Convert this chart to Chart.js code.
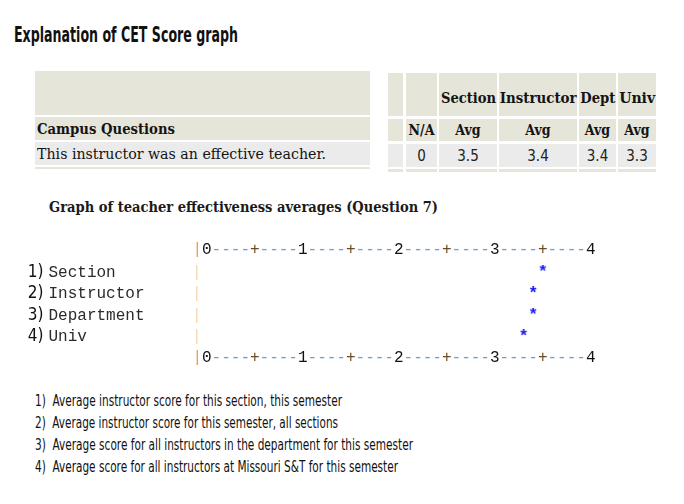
<!DOCTYPE html>
<html><head><meta charset="utf-8">
<script src="https://cdn.jsdelivr.net/npm/chart.js@4"></script>
<style>
body{margin:0;width:684px;height:504px;background:#fff;position:relative;overflow:hidden;}
.box{position:absolute;}
.cell{position:absolute;display:flex;align-items:center;justify-content:center;white-space:nowrap;
 font-family:"DejaVu Serif Condensed","DejaVu Serif",serif;font-size:14px;color:#141414;}
.cell.l{justify-content:flex-start;}
.b{font-weight:bold;}
.fit{display:inline-block;white-space:pre;}
.sans{font-family:"Liberation Sans Narrow","DejaVu Sans Condensed",sans-serif;color:#111;}
</style>
</head><body>
<div id="page"></div>
<canvas id="graph" class="box" style="left:0;top:230px;" width="684" height="144"></canvas>
<script>
// ---------- data ----------
const titleText = 'Explanation of CET Score graph';
const questionText = 'This instructor was an effective teacher.';
const groupHeaders = ['Section','Instructor','Dept','Univ'];
const subHeaders = ['N/A','Avg','Avg','Avg','Avg'];
const naCount = 0;
const averages = [3.5, 3.4, 3.4, 3.3];
const graphTitle = 'Graph of teacher effectiveness averages (Question 7)';
const rowNums = ['1)','2)','3)','4)'];
const rowNames = ['Section','Instructor','Department','Univ'];
const rowBars = ['|','|','|','|'];
const axisTicks = '|0----+----1----+----2----+----3----+----4'.split('');
const notes = [
 '1)  Average instructor score for this section, this semester',
 '2)  Average instructor score for this semester, all sections',
 '3)  Average score for all instructors in the department for this semester',
 '4)  Average score for all instructors at Missouri S&T for this semester'
];

// ---------- page layout ----------
const page = document.getElementById('page');
function el(cls, css, html){const d=document.createElement('div');d.className=cls;Object.assign(d.style,css);if(html!==undefined)d.innerHTML=html;page.appendChild(d);return d;}
function fitSpan(parent, text, w, origin){
  const s=document.createElement('span');s.className='fit';s.textContent=text;parent.appendChild(s);
  if(w){const a=s.getBoundingClientRect().width;s.style.transform='scaleX('+(w/a)+')';s.style.transformOrigin=origin||'left center';}
  return s;
}
const BEIGE='#e6e5da', GRAY='#ebebeb';
// title
const t = el('box sans b',{left:'14px',top:'20px',fontSize:'21px',fontWeight:'bold',lineHeight:'30px'});
fitSpan(t,titleText,224);
// left table
el('cell',{left:'35px',top:'71px',width:'335px',height:'44px',background:BEIGE});
const cq = el('cell l b',{left:'35px',top:'117px',width:'335px',height:'23px',background:BEIGE,paddingLeft:'2px',boxSizing:'border-box'});
fitSpan(cq,'Campus Questions',138);
const qt = el('cell l',{left:'35px',top:'142px',width:'335px',height:'23px',background:GRAY,paddingLeft:'2px',boxSizing:'border-box'});
fitSpan(qt,questionText,289);
el('cell',{left:'35px',top:'167px',width:'335px',height:'2px',background:BEIGE});
// right table
const cols=[[388,403],[406,437],[439,497],[499,577],[579,616],[618,656]];
const rows=[[73,116],[119,141],[144,167],[169,172]];
const hdrW=[null,null,55,77,35,36];
cols.forEach((c,ci)=>{
  rows.forEach((r,ri)=>{
    const bg = ri===2?GRAY:BEIGE;
    const d = el('cell'+(ri<2?' b':''),{left:c[0]+'px',top:r[0]+'px',width:(c[1]-c[0])+'px',height:(r[1]-r[0])+'px',background:bg});
    let txt='';
    if(ri===0 && ci>=2) txt=groupHeaders[ci-2];
    if(ri===1 && ci>=1) txt=subHeaders[ci-1];
    if(ri===2 && ci===1) txt=String(naCount);
    if(ri===2 && ci>=2) txt=averages[ci-2].toFixed(1);
    if(txt){
      if(ri===0){ d.style.alignItems='flex-end'; d.style.paddingBottom='10px'; d.style.boxSizing='border-box'; fitSpan(d,txt,hdrW[ci],'center'); }
      else if(ri===1){ fitSpan(d,txt,null); }
      else { d.style.fontFamily='"DejaVu Sans Condensed",sans-serif'; d.style.fontSize='15px'; d.style.color='#222'; fitSpan(d,txt,null); }
    }
  });
});
// graph heading
const gh = el('box b',{left:'49px',top:'197px',fontFamily:'"DejaVu Serif Condensed","DejaVu Serif",serif',fontSize:'15px',fontWeight:'bold',color:'#1a1a1a',lineHeight:'20px'});
fitSpan(gh,graphTitle,389);
// notes
const noteW=[307,303,378,363];
notes.forEach((n,i)=>{
  const d = el('box sans',{left:'35px',top:(390+i*22)+'px',fontSize:'15px',lineHeight:'22px',color:'#111'});
  fitSpan(d,n,noteW[i]);
});

// ---------- chart ----------
const star = document.createElement('canvas');
star.width=16; star.height=16;
(function(){const c=star.getContext('2d');c.fillStyle='#1414ff';c.font='bold 17px "Liberation Mono"';c.textAlign='center';c.textBaseline='middle';c.fillText('*',8,8);})();

function tickColor(ch){
  if(ch==='-') return '#6a9ae8';
  if(ch==='|') return '#e5a040';
  if(ch==='+') return '#6b4a20';
  return '#111';
}
const mono = {family:'"Liberation Mono","Courier New",monospace', size:16};
function xAxis(pos, pad){
  return {
    type:'linear', position:pos, min:-0.1, max:4,
    afterBuildTicks: s => { s.ticks = axisTicks.map((c,i)=>({value: Math.round(i-1)/10})); },
    grid:{display:false, drawTicks:false}, border:{display:false},
    ticks:{autoSkip:false, maxRotation:0, minRotation:0, padding:pad, font:mono,
      color: ctx => tickColor(axisTicks[ctx.index]),
      callback:(v,i)=>axisTicks[i]}
  };
}
new Chart(document.getElementById('graph'), {
  type:'scatter',
  data:{datasets:[{
    data: rowNames.map((n,i)=>({x:averages[i], y:n})),
    pointStyle: star, pointRadius:6, showLine:false,
    xAxisID:'x', yAxisID:'y'
  }]},
  options:{
    responsive:false, animation:false, devicePixelRatio:1,
    layout:{padding:{left:0, right:93.3, top:8.6, bottom:7}},
    plugins:{legend:{display:false}, tooltip:{enabled:false}},
    scales:{
      x: xAxis('bottom', 0),
      x2: xAxis('top', 2),
      y3:{type:'category', labels:rowNums, offset:true, position:'left', weight:2,
        grid:{display:false, drawTicks:false}, border:{display:false},
        ticks:{autoSkip:false, crossAlign:'near', padding:5, color:'#111', font:{family:'"Liberation Sans Narrow","DejaVu Sans Condensed",sans-serif', size:17}},
        afterFit: s=>{s.width=48.5;}},
      y:{type:'category', labels:rowNames, offset:true, position:'left', weight:1,
        grid:{display:false, drawTicks:false}, border:{display:false},
        ticks:{autoSkip:false, crossAlign:'far', padding:0, color:'#2e2a2a', font:mono},
        afterFit: s=>{s.width=143.7;}},
      y2:{type:'category', labels:rowBars, offset:true, position:'left', weight:0,
        grid:{display:false, drawTicks:false}, border:{display:false},
        ticks:{autoSkip:false, crossAlign:'near', padding:-4.8, color:'#e5a040', font:mono},
        afterFit: s=>{s.width=5;}}
    }
  }
});
</script>
</body></html>
